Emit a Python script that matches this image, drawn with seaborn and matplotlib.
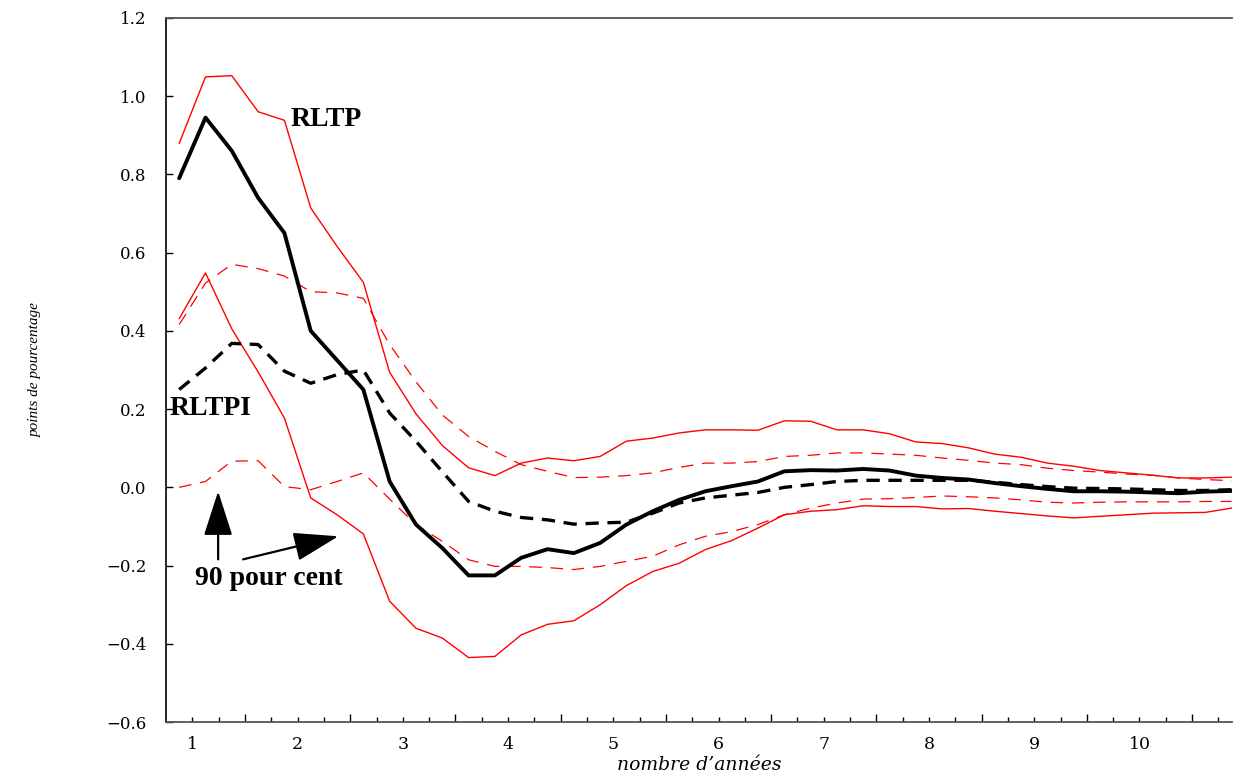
import numpy as np
import pandas as pd
import matplotlib
matplotlib.use("Agg")
import matplotlib.pyplot as plt
import seaborn as sns
from matplotlib.ticker import FixedLocator, FuncFormatter, NullFormatter

# ---------------- data (quarterly horizon, 41 points) ----------------
quarters = list(range(41))

rltp = [0.79, 0.945, 0.86, 0.74, 0.65, 0.40, 0.325, 0.25, 0.015, -0.095,
        -0.155, -0.225, -0.225, -0.18, -0.158, -0.168, -0.142, -0.095, -0.061, -0.032,
        -0.010, 0.003, 0.015, 0.041, 0.044, 0.043, 0.047, 0.043, 0.030, 0.024,
        0.020, 0.011, 0.003, -0.004, -0.010, -0.010, -0.011, -0.013, -0.015, -0.011,
        -0.009]
rltp_upper = [0.879, 1.049, 1.052, 0.96, 0.938, 0.714, 0.616, 0.524, 0.294, 0.188,
              0.107, 0.05, 0.03, 0.062, 0.075, 0.068, 0.079, 0.118, 0.126, 0.139,
              0.147, 0.147, 0.146, 0.170, 0.169, 0.147, 0.147, 0.137, 0.116, 0.112,
              0.101, 0.085, 0.077, 0.062, 0.054, 0.043, 0.037, 0.031, 0.024, 0.024,
              0.026]
rltp_lower = [0.431, 0.548, 0.405, 0.295, 0.177, -0.027, -0.07, -0.119, -0.291, -0.36,
              -0.385, -0.435, -0.432, -0.377, -0.35, -0.341, -0.30, -0.251, -0.215, -0.194,
              -0.159, -0.136, -0.104, -0.070, -0.061, -0.057, -0.047, -0.049, -0.049, -0.055,
              -0.054, -0.061, -0.067, -0.073, -0.078, -0.074, -0.070, -0.066, -0.065, -0.064,
              -0.053]
rltpi = [0.25, 0.305, 0.368, 0.365, 0.297, 0.266, 0.288, 0.30, 0.19, 0.118,
         0.04, -0.036, -0.061, -0.077, -0.083, -0.094, -0.091, -0.089, -0.066, -0.040,
         -0.027, -0.020, -0.013, 0.000, 0.007, 0.015, 0.018, 0.018, 0.018, 0.018,
         0.018, 0.013, 0.007, 0.002, -0.002, -0.003, -0.004, -0.006, -0.008, -0.008,
         -0.006]
rltpi_upper = [0.416, 0.522, 0.57, 0.559, 0.54, 0.50, 0.497, 0.483, 0.365, 0.27,
               0.185, 0.13, 0.092, 0.058, 0.041, 0.025, 0.026, 0.030, 0.037, 0.051,
               0.062, 0.062, 0.066, 0.079, 0.082, 0.088, 0.088, 0.085, 0.082, 0.075,
               0.069, 0.062, 0.058, 0.049, 0.043, 0.039, 0.034, 0.031, 0.024, 0.020,
               0.017]
rltpi_lower = [0.0, 0.015, 0.067, 0.068, 0.002, -0.006, 0.015, 0.037, -0.03, -0.095,
               -0.138, -0.185, -0.202, -0.202, -0.205, -0.21, -0.202, -0.189, -0.176, -0.147,
               -0.125, -0.113, -0.095, -0.070, -0.053, -0.040, -0.030, -0.029, -0.026, -0.022,
               -0.024, -0.027, -0.032, -0.038, -0.040, -0.038, -0.037, -0.037, -0.037, -0.036,
               -0.036]

year_labels = ["1", "2", "3", "4", "5", "6", "7", "8", "9", "10"]
y_ticks = [-0.6, -0.4, -0.2, 0.0, 0.2, 0.4, 0.6, 0.8, 1.0, 1.2]

df = pd.DataFrame({
    "q": quarters,
    "RLTP": rltp, "RLTP_hi": rltp_upper, "RLTP_lo": rltp_lower,
    "RLTPI": rltpi, "RLTPI_hi": rltpi_upper, "RLTPI_lo": rltpi_lower,
})

# ---------------- figure ----------------
sns.set_theme(style="white")
plt.rcParams["font.family"] = ["Liberation Serif", "DejaVu Serif"]
plt.rcParams["axes.unicode_minus"] = True
for key in ["text.color", "axes.labelcolor", "xtick.color", "ytick.color"]:
    plt.rcParams[key] = "black"

fig = plt.figure(figsize=(12.39, 7.74), dpi=100)
ax = fig.add_axes([0.134, 0.067, 0.860, 0.910])

red = "#ff0000"
sns.lineplot(data=df, x="q", y="RLTP_hi", ax=ax, color=red, lw=1.0)
sns.lineplot(data=df, x="q", y="RLTP_lo", ax=ax, color=red, lw=1.0)
sns.lineplot(data=df, x="q", y="RLTPI_hi", ax=ax, color=red, lw=0.9, linestyle=(0, (10, 7)))
sns.lineplot(data=df, x="q", y="RLTPI_lo", ax=ax, color=red, lw=0.9, linestyle=(0, (10, 7)))
sns.lineplot(data=df, x="q", y="RLTPI", ax=ax, color="black", lw=2.4, linestyle=(0, (4, 2.6)))
sns.lineplot(data=df, x="q", y="RLTP", ax=ax, color="black", lw=2.8)

ax.set_xlim(-0.5, 40.0)
ax.set_ylim(-0.6, 1.2)

# x ticks: a tick every quarter, long ticks at year boundaries, labels mid-year
all_ticks = [k + 0.5 for k in range(40)]
long_ticks = [t for t in all_ticks if (t - 2.5) % 4 == 0]
short_ticks = [t for t in all_ticks if t not in long_ticks]
label_map = {0.5 + 4 * j: lab for j, lab in enumerate(year_labels)}
ax.xaxis.set_major_locator(FixedLocator(long_ticks))
ax.xaxis.set_major_formatter(NullFormatter())
ax.xaxis.set_minor_locator(FixedLocator(short_ticks))
ax.xaxis.set_minor_formatter(FuncFormatter(lambda v, p: label_map.get(round(v, 1), "")))
ax.tick_params(axis="x", which="major", direction="in", length=6, width=1.0, color="black",
               bottom=True, top=False)
ax.tick_params(axis="x", which="minor", direction="in", length=3.5, width=1.0, color="black",
               bottom=True, top=False, pad=10, labelsize=12.5)
for lab in ax.xaxis.get_minorticklabels():
    lab.set_family("DejaVu Serif")

ax.set_yticks(y_ticks)
ax.yaxis.set_major_formatter(FuncFormatter(
    lambda v, p: ("%.1f" % (0.0 if abs(v) < 1e-9 else v)).replace("-", "\u2212")))
ax.tick_params(axis="y", which="major", direction="in", length=5, width=1.0, color="black",
               left=True, pad=14, labelsize=12)
for lab in ax.get_yticklabels():
    lab.set_family("DejaVu Serif")

ax.spines["left"].set_color("black")
ax.spines["left"].set_linewidth(1.2)
for s in ["bottom", "top"]:
    ax.spines[s].set_color("#555555")
    ax.spines[s].set_linewidth(1.3)
ax.spines["right"].set_visible(False)

ax.set_xlabel("nombre d\u2019ann\u00e9es", fontsize=13.5, style="italic", labelpad=2,
              family=["DejaVu Serif"])
ax.set_ylabel("points de pourcentage", fontsize=11, style="italic", labelpad=46)

# annotations
ax.text(4.22, 0.941, "RLTP", fontsize=20, fontweight="bold", ha="left", va="center")
ax.text(-0.36, 0.202, "RLTPI", fontsize=20, fontweight="bold", ha="left", va="center")
ax.text(0.61, -0.233, "90 pour cent", fontsize=20, fontweight="bold", ha="left", va="center")
arrow_kw = dict(arrowstyle="-|>,head_length=1.4,head_width=0.45", color="black", lw=1.6,
                shrinkA=0, shrinkB=0, mutation_scale=20)
ax.annotate("", xy=(1.48, -0.01), xytext=(1.48, -0.184), arrowprops=arrow_kw)
ax.annotate("", xy=(6.05, -0.125), xytext=(2.43, -0.184), arrowprops=arrow_kw)

fig.savefig("out.png", dpi=100)
